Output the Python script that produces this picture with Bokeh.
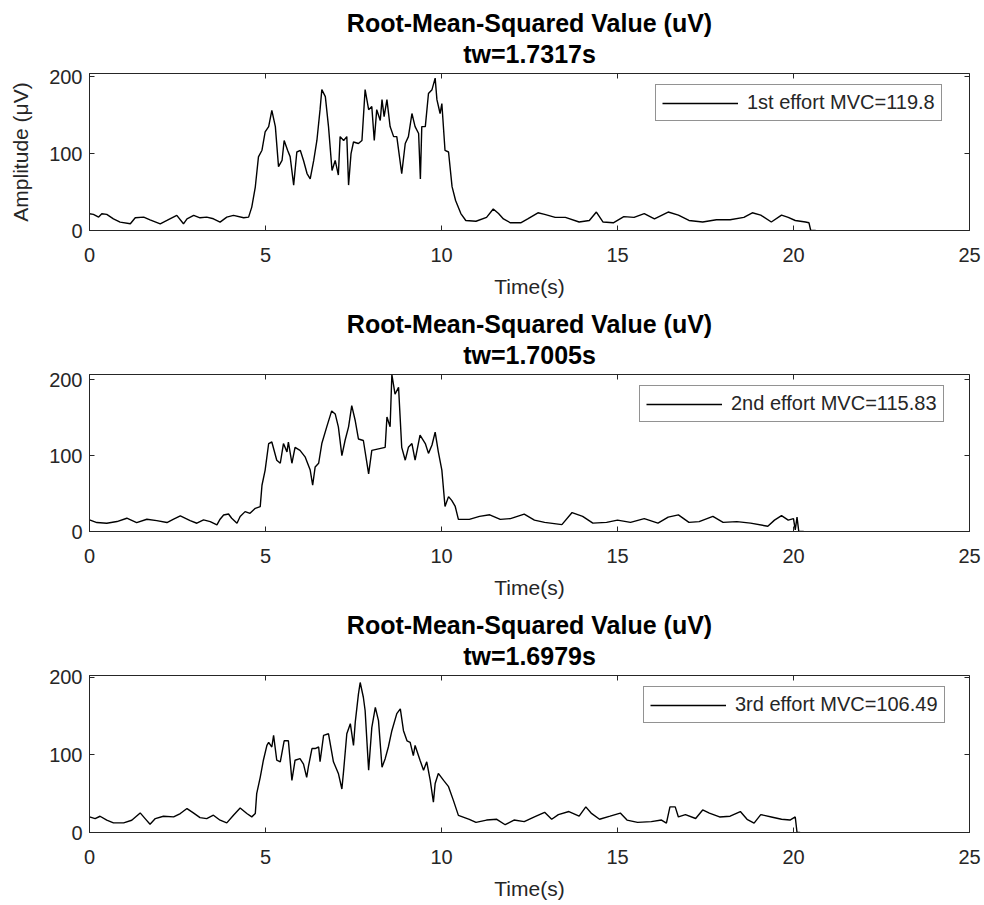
from bokeh.plotting import figure
from bokeh.layouts import column
from bokeh.models import LinearAxis, FixedTicker, Title, Range1d, Legend, LegendItem
from bokeh.embed import file_html
from bokeh.resources import INLINE

# ---- data: (time s, RMS uV) ----
rms_1st = [
    (0.00, 21.7), (0.11, 20.9), (0.26, 17.4), (0.35, 21.7), (0.49, 20.9), (0.68, 15.2), (0.87, 10.9), (1.16, 8.7), (1.30, 16.5), (1.54, 17.4),
    (1.72, 13.9), (2.01, 8.7), (2.20, 13.0), (2.48, 19.6), (2.67, 8.7), (2.77, 15.2), (2.96, 19.6), (3.14, 16.5), (3.33, 17.4), (3.52, 15.2),
    (3.71, 10.9), (3.90, 17.4), (4.09, 19.6), (4.38, 16.5), (4.52, 17.4), (4.61, 30.4), (4.71, 56.5), (4.80, 95.7), (4.90, 104.3), (4.99, 128),
    (5.09, 135), (5.18, 156), (5.28, 135), (5.37, 83), (5.47, 91), (5.53, 117), (5.63, 104), (5.70, 96), (5.80, 59), (5.89, 102),
    (5.99, 104), (6.08, 91), (6.18, 74), (6.27, 67), (6.37, 91), (6.46, 117), (6.55, 157), (6.60, 183), (6.70, 174), (6.79, 135),
    (6.89, 78), (6.98, 91), (7.07, 72), (7.12, 122), (7.22, 117), (7.31, 122), (7.36, 59), (7.43, 100), (7.50, 115), (7.64, 113),
    (7.74, 117), (7.83, 183), (7.93, 157), (8.02, 161), (8.09, 117), (8.16, 157), (8.26, 143), (8.31, 170), (8.37, 148), (8.45, 170),
    (8.54, 135), (8.64, 122), (8.73, 122), (8.87, 74), (8.97, 113), (9.06, 122), (9.16, 152), (9.25, 135), (9.35, 126), (9.40, 67),
    (9.44, 135), (9.54, 135), (9.63, 178), (9.73, 183), (9.82, 198), (9.87, 170), (9.96, 152), (10.01, 165), (10.10, 104), (10.20, 102),
    (10.30, 57), (10.40, 39), (10.55, 22), (10.69, 13), (10.98, 12), (11.28, 17), (11.47, 28), (11.62, 22), (11.76, 15), (11.96, 10),
    (12.25, 10), (12.45, 15), (12.74, 23), (12.93, 21), (13.23, 17), (13.52, 17), (13.91, 11), (14.20, 13), (14.40, 24), (14.59, 11),
    (14.88, 10), (15.18, 18), (15.47, 17), (15.76, 22), (16.05, 15), (16.44, 24), (16.73, 20), (17.03, 13), (17.42, 11), (17.81, 14),
    (18.20, 14), (18.59, 17), (18.83, 23), (19.07, 20), (19.37, 11), (19.66, 20), (19.85, 17), (20.05, 13), (20.34, 11), (20.44, 10),
    (20.49, 0), (20.63, 0),
]

rms_2nd = [
    (0.00, 15.3), (0.21, 11.8), (0.49, 10.9), (0.78, 13.1), (1.06, 17.5), (1.34, 11.8), (1.63, 16.2), (1.91, 14.4), (2.20, 11.8), (2.39, 16.2),
    (2.58, 20.5), (2.86, 14.4), (3.05, 10.9), (3.24, 15.3), (3.43, 13.1), (3.62, 8.7), (3.71, 16.2), (3.81, 21.8), (3.95, 23.1), (4.04, 17.5),
    (4.19, 10.9), (4.28, 19.7), (4.42, 26.2), (4.56, 24.0), (4.71, 30.6), (4.85, 32.8), (4.90, 61), (4.99, 81), (5.09, 116), (5.18, 118),
    (5.32, 94), (5.42, 90), (5.51, 116), (5.61, 105), (5.65, 118), (5.75, 90), (5.84, 111), (5.98, 107), (6.13, 98), (6.27, 81),
    (6.34, 61), (6.41, 85), (6.51, 90), (6.60, 116), (6.74, 138), (6.88, 159), (6.98, 155), (7.07, 138), (7.17, 100), (7.26, 120),
    (7.36, 138), (7.45, 166), (7.55, 146), (7.64, 122), (7.78, 120), (7.93, 76), (8.02, 107), (8.21, 109), (8.40, 111), (8.45, 151),
    (8.54, 138), (8.59, 207), (8.68, 181), (8.78, 190), (8.87, 111), (8.97, 94), (9.06, 111), (9.16, 116), (9.25, 94), (9.39, 127),
    (9.54, 116), (9.63, 103), (9.73, 114), (9.82, 131), (9.91, 105), (10.01, 81), (10.10, 33), (10.20, 46), (10.29, 41), (10.39, 33),
    (10.48, 16), (10.79, 16), (11.08, 20), (11.37, 22), (11.67, 16), (11.96, 17), (12.35, 23), (12.64, 15), (12.93, 12), (13.42, 9),
    (13.71, 25), (14.01, 20), (14.30, 11), (14.69, 12), (15.00, 15), (15.37, 12), (15.76, 17), (16.15, 11), (16.44, 19), (16.73, 22),
    (17.03, 12), (17.32, 13), (17.71, 20), (18.00, 12), (18.39, 13), (18.78, 11), (19.27, 7), (19.46, 15), (19.66, 21), (19.85, 15),
    (20.00, 17), (20.05, 2), (20.10, 19), (20.15, 0), (20.29, 0),
]

rms_3rd = [
    (0.00, 20.1), (0.16, 17.9), (0.30, 20.9), (0.49, 15.8), (0.68, 12.4), (0.97, 12.4), (1.20, 15.8), (1.44, 25.2), (1.58, 17.9), (1.72, 10.7),
    (1.87, 17.9), (2.10, 20.9), (2.39, 20.1), (2.58, 24.4), (2.77, 30.8), (2.95, 25.2), (3.14, 19.2), (3.33, 17.9), (3.52, 22.2), (3.71, 15.8),
    (3.90, 12.4), (4.09, 22.2), (4.28, 31.6), (4.47, 24.4), (4.61, 20.1), (4.71, 24.4), (4.75, 50), (4.85, 71), (4.94, 93), (5.04, 112),
    (5.09, 116), (5.18, 110), (5.23, 125), (5.32, 93), (5.42, 91), (5.53, 118), (5.65, 118), (5.75, 67), (5.84, 93), (5.98, 95),
    (6.08, 88), (6.17, 71), (6.22, 85), (6.32, 108), (6.41, 108), (6.51, 110), (6.55, 91), (6.65, 125), (6.79, 127), (6.93, 91),
    (7.07, 76), (7.17, 56), (7.22, 80), (7.31, 127), (7.41, 140), (7.50, 112), (7.55, 142), (7.64, 178), (7.69, 193), (7.78, 174),
    (7.83, 157), (7.93, 80), (8.02, 135), (8.12, 161), (8.21, 144), (8.31, 84), (8.40, 95), (8.49, 110), (8.59, 131), (8.73, 153),
    (8.83, 159), (8.92, 131), (9.02, 118), (9.11, 116), (9.20, 99), (9.25, 112), (9.39, 93), (9.49, 80), (9.58, 91), (9.68, 67),
    (9.77, 39), (9.82, 63), (9.91, 76), (10.06, 67), (10.20, 59), (10.34, 41), (10.48, 22), (10.79, 17), (10.98, 13), (11.28, 16),
    (11.57, 17), (11.81, 10), (12.06, 16), (12.35, 14), (12.64, 20), (12.93, 26), (13.13, 17), (13.32, 23), (13.62, 27), (13.91, 21),
    (14.10, 33), (14.25, 25), (14.49, 17), (14.79, 21), (15.08, 25), (15.27, 16), (15.57, 13), (15.96, 14), (16.25, 16), (16.39, 12),
    (16.49, 33), (16.64, 33), (16.73, 20), (16.93, 23), (17.22, 18), (17.42, 29), (17.61, 25), (17.90, 20), (18.20, 21), (18.49, 27),
    (18.68, 17), (18.88, 12), (19.07, 23), (19.37, 20), (19.66, 17), (19.90, 16), (20.05, 20), (20.10, 0), (20.19, 0),
]

title_main = "Root-Mean-Squared Value (uV)"
titles_tw = ["tw=1.7317s", "tw=1.7005s", "tw=1.6979s"]
legend_labels = ["1st effort MVC=119.8", "2nd effort MVC=115.83", "3rd effort MVC=106.49"]
y_max = [204, 207, 202]
x_ticks = [0, 5, 10, 15, 20, 25]
y_ticks = [0, 100, 200]

# layout (pixels)
fig_heights = [310, 301, 294]
border_top = [73, 64, 64]
border_bottom = [80, 80, 73]
legend_x = [566, 550, 554]

FONT = "Liberation Sans"
TXT = "#262626"


def style_axis(ax, show_labels=True):
    ax.major_tick_in = 5
    ax.major_tick_out = 0
    ax.minor_tick_line_color = None
    ax.axis_line_color = TXT
    ax.major_tick_line_color = TXT
    ax.major_label_text_font = FONT
    ax.major_label_text_font_size = "20px"
    ax.major_label_text_color = TXT
    ax.axis_label_text_font = FONT
    ax.axis_label_text_font_size = "21px"
    ax.axis_label_text_font_style = "normal"
    ax.axis_label_text_color = TXT
    if not show_labels:
        ax.major_label_text_font_size = "1px"
        ax.major_label_text_color = None
        ax.major_label_standoff = 0
        ax.axis_line_color = None


def panel(data, i, ylabel=None):
    t = [a for a, b in data]
    v = [b for a, b in data]
    p = figure(width=984, height=fig_heights[i], x_range=Range1d(0, 25), y_range=Range1d(0, y_max[i]),
               output_backend="svg", toolbar_location=None,
               min_border_left=89, min_border_right=15,
               min_border_top=border_top[i], min_border_bottom=border_bottom[i])
    p.title.visible = False
    p.grid.visible = False
    p.outline_line_color = TXT
    p.outline_line_width = 1
    p.background_fill_color = "white"
    p.border_fill_color = "white"
    r = p.line(t, v, line_color="black", line_width=1.4)

    p.xaxis.ticker = FixedTicker(ticks=x_ticks)
    p.yaxis.ticker = FixedTicker(ticks=y_ticks)
    style_axis(p.xaxis[0])
    style_axis(p.yaxis[0])
    p.xaxis.axis_label = "Time(s)"
    p.xaxis.major_label_standoff = 17
    p.xaxis.axis_label_standoff = 10
    p.yaxis.major_label_standoff = 7
    if ylabel:
        p.yaxis.axis_label = ylabel
        p.yaxis.axis_label_standoff = 14

    top = LinearAxis(ticker=FixedTicker(ticks=x_ticks))
    style_axis(top, False)
    right = LinearAxis(ticker=FixedTicker(ticks=y_ticks))
    style_axis(right, False)
    p.add_layout(top, "above")
    p.add_layout(right, "right")

    p.add_layout(Title(text=titles_tw[i], align="center", text_font=FONT, text_font_size="25px",
                       text_font_style="bold", text_color="black", standoff=11), "above")
    p.add_layout(Title(text=title_main, align="center", text_font=FONT, text_font_size="25px",
                       text_font_style="bold", text_color="black", standoff=-8), "above")

    leg = Legend(items=[LegendItem(label=legend_labels[i], renderers=[r])],
                 location=(legend_x[i], 109))
    leg.border_line_color = TXT
    leg.border_line_width = 1
    leg.label_text_font = FONT
    leg.label_text_font_size = "20px"
    leg.label_text_color = TXT
    leg.glyph_width = 76
    leg.glyph_height = 20
    leg.label_standoff = 9
    leg.padding = 6
    leg.spacing = 0
    leg.margin = 0
    leg.background_fill_color = "white"
    leg.background_fill_alpha = 1
    p.add_layout(leg, "center")
    return p


p1 = panel(rms_1st, 0, ylabel="Amplitude (\u03bcV)")
p2 = panel(rms_2nd, 1)
p3 = panel(rms_3rd, 2)

layout = column(p1, p2, p3, spacing=0)
open("out.html", "w").write(file_html(layout, INLINE))
